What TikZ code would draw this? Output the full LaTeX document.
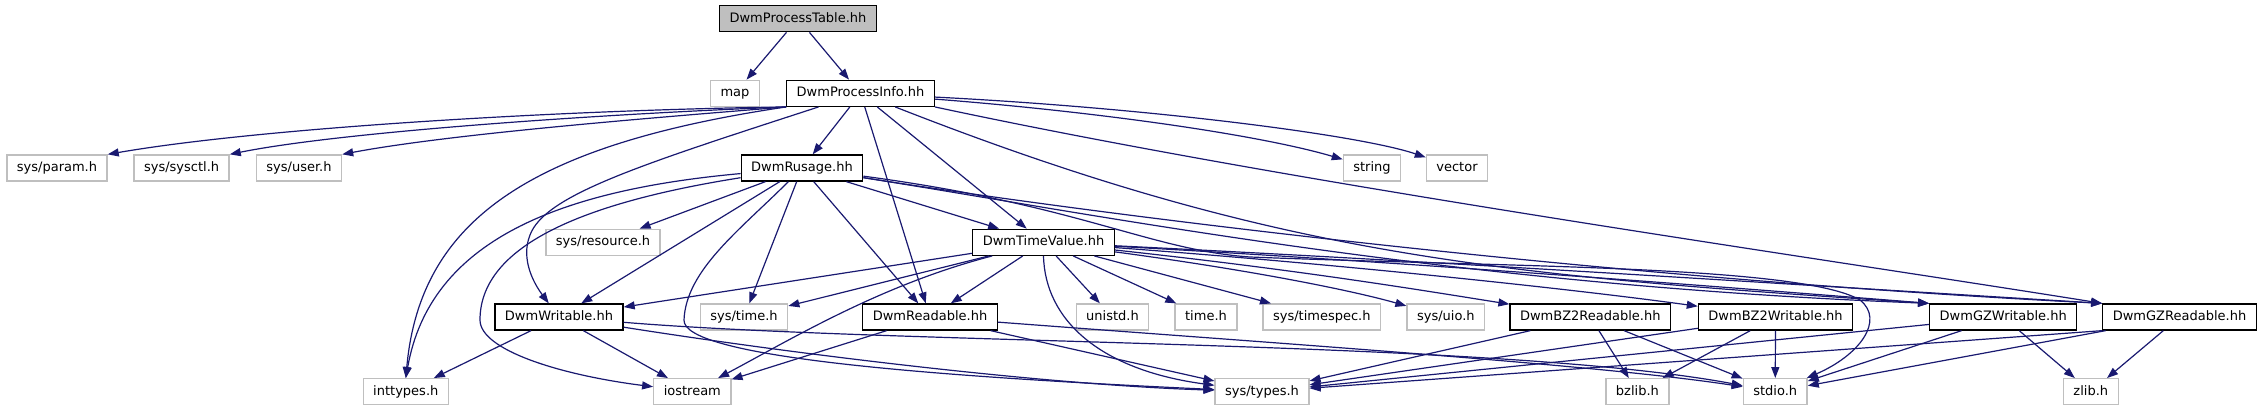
\documentclass[tikz,border=0pt]{standalone}
\usepackage{fontspec}
\setmainfont{DejaVu Sans}
\usetikzlibrary{arrows.meta}

\definecolor{depblue}{HTML}{191970}
\definecolor{sysgray}{HTML}{BFBFBF}

\begin{document}
\begin{tikzpicture}[
    x=0.5pt, y=-0.5pt,
    hdr/.style={draw=black, line width=0.65pt, fill=white, minimum height=13pt, inner xsep=5pt, inner ysep=0pt, text height=4.9pt, text depth=1.5pt, font=\fontsize{6.5pt}{7.8pt}\selectfont},
    syshdr/.style={hdr, draw=sysgray},
    roothdr/.style={hdr, fill=sysgray},
    dep/.style={draw=depblue, line width=0.6pt, -{Triangle[length=5.5pt, width=4pt]}}
]
\useasboundingbox (0,0) rectangle (2262,411);

% headers
\node[roothdr] (table) at (798,18.7) {DwmProcessTable.hh};
\node[syshdr] (map) at (735,93.3) {map};
\node[hdr] (info) at (860.5,93.3) {DwmProcessInfo.hh};

\node[syshdr] (param) at (57,168) {sys/param.h};
\node[syshdr] (sysctl) at (181.6,168) {sys/sysctl.h};
\node[syshdr] (user) at (299,168) {sys/user.h};
\node[hdr] (rusage) at (802,168) {DwmRusage.hh};
\node[syshdr] (string) at (1372,168) {string};
\node[syshdr] (vector) at (1457,168) {vector};

\node[syshdr] (resource) at (603,242.3) {sys/resource.h};
\node[hdr] (timeval) at (1043.5,242.3) {DwmTimeValue.hh};

\node[hdr] (writable) at (559,317) {DwmWritable.hh};
\node[syshdr] (systime) at (744,317) {sys/time.h};
\node[hdr] (readable) at (930,317) {DwmReadable.hh};
\node[syshdr] (unistd) at (1112.5,317) {unistd.h};
\node[syshdr] (timeh) at (1206,317) {time.h};
\node[syshdr] (timespec) at (1321.8,317) {sys/timespec.h};
\node[syshdr] (uio) at (1445.8,317) {sys/uio.h};
\node[hdr] (bzr) at (1590.3,317) {DwmBZ2Readable.hh};
\node[hdr] (bzw) at (1775.5,317) {DwmBZ2Writable.hh};
\node[hdr] (gzw) at (2003.2,317) {DwmGZWritable.hh};
\node[hdr] (gzr) at (2179.5,317) {DwmGZReadable.hh};

\node[syshdr] (inttypes) at (405.8,391.7) {inttypes.h};
\node[syshdr] (iostream) at (692.3,391.7) {iostream};
\node[syshdr] (systypes) at (1262,391.7) {sys/types.h};
\node[syshdr] (bzlib) at (1637.4,391.7) {bzlib.h};
\node[syshdr] (stdio) at (1775.2,391.7) {stdio.h};
\node[syshdr] (zlib) at (2090.8,391.7) {zlib.h};

% DwmProcessTable.hh
\draw[dep] (table) -- (map);
\draw[dep] (table) -- (info);

% DwmProcessInfo.hh
\draw[dep] (info.south west) .. controls (560,110) and (260,128) .. (param.north east);
\draw[dep] (info.south west) .. controls (600,114) and (340,132) .. (sysctl.north east);
\draw[dep] (info.south west) .. controls (650,118) and (450,134) .. (user.north east);
\draw[dep] (info) .. controls (1100,112) and (1260,135) .. (string);
\draw[dep] (info) .. controls (1150,108) and (1360,135) .. (vector);
\draw[dep] (info.south west) .. controls (530,145) and (420,220) .. (inttypes.north);
\draw[dep] (info) .. controls (640,165) and (545,195) .. (530,235) .. controls (520,260) and (535,285) .. (writable);
\draw[dep] (info) -- (rusage);
\draw[dep] (info) -- (readable);
\draw[dep] (info) -- (timeval);
\draw[dep] (info) .. controls (1280,258) and (1500,275) .. (gzw.north west);
\draw[dep] (info.south east) .. controls (1300,185) and (1800,255) .. (gzr.north west);

% DwmRusage.hh
\draw[dep] (rusage) -- (resource);
\draw[dep] (rusage) .. controls (560,190) and (430,240) .. (inttypes.north);
\draw[dep] (rusage) .. controls (600,200) and (480,240) .. (480,320) .. controls (480,350) and (560,375) .. (iostream);
\draw[dep] (rusage) -- (writable);
\draw[dep] (rusage) .. controls (740,230) and (686,270) .. (684,320) .. controls (683,355) and (900,375) .. (systypes);
\draw[dep] (rusage) -- (systime);
\draw[dep] (rusage) -- (readable);
\draw[dep] (rusage) -- (timeval);
\draw[dep] (rusage) .. controls (1100,215) and (1450,285) .. (gzw.north west);
\draw[dep] (rusage) .. controls (1100,215) and (1600,278) .. (gzr.north west);
\draw[dep] (rusage) .. controls (1080,205) and (1150,250) .. (1250,257) .. controls (1500,267) and (1800,265) .. (1860,300) .. controls (1885,320) and (1860,355) .. (stdio);

% DwmTimeValue.hh
\draw[dep] (timeval) -- (writable);
\draw[dep] (timeval) -- (systime);
\draw[dep] ([xshift=10pt]timeval.south west) .. controls (880,285) and (790,340) .. (iostream);
\draw[dep] (timeval) -- (readable);
\draw[dep] (timeval.south) .. controls (1045,320) and (1100,370) .. (systypes);
\draw[dep] (timeval) -- (unistd);
\draw[dep] (timeval) -- (timeh);
\draw[dep] (timeval) -- (timespec);
\draw[dep] (timeval) .. controls (1250,270) and (1350,290) .. (uio);
\draw[dep] (timeval) .. controls (1300,270) and (1420,290) .. (bzr);
\draw[dep] (timeval) .. controls (1350,265) and (1580,290) .. (bzw);
\draw[dep] (timeval) .. controls (1400,262) and (1700,285) .. (gzw.north west);
\draw[dep] (timeval) .. controls (1450,262) and (1800,285) .. (gzr.north west);

% DwmWritable.hh / DwmReadable.hh
\draw[dep] (writable) -- (inttypes);
\draw[dep] (writable) -- (iostream);
\draw[dep] (writable) .. controls (800,355) and (1050,385) .. (systypes);
\draw[dep] (writable) .. controls (900,345) and (1500,340) .. (stdio);
\draw[dep] (readable) -- (iostream);
\draw[dep] (readable) -- (systypes);
\draw[dep] (readable) .. controls (1300,345) and (1600,365) .. (stdio);

% bz2 / gz
\draw[dep] (bzr) -- (systypes);
\draw[dep] (bzr) -- (bzlib);
\draw[dep] (bzr) -- (stdio);
\draw[dep] (bzw) -- (systypes);
\draw[dep] (bzw) -- (bzlib);
\draw[dep] (bzw) -- (stdio);
\draw[dep] (gzw) -- (systypes);
\draw[dep] (gzw) -- (stdio);
\draw[dep] (gzw) -- (zlib);
\draw[dep] (gzr.south west) -- (systypes);
\draw[dep] (gzr) -- (stdio);
\draw[dep] (gzr) -- (zlib);

\end{tikzpicture}
\end{document}
